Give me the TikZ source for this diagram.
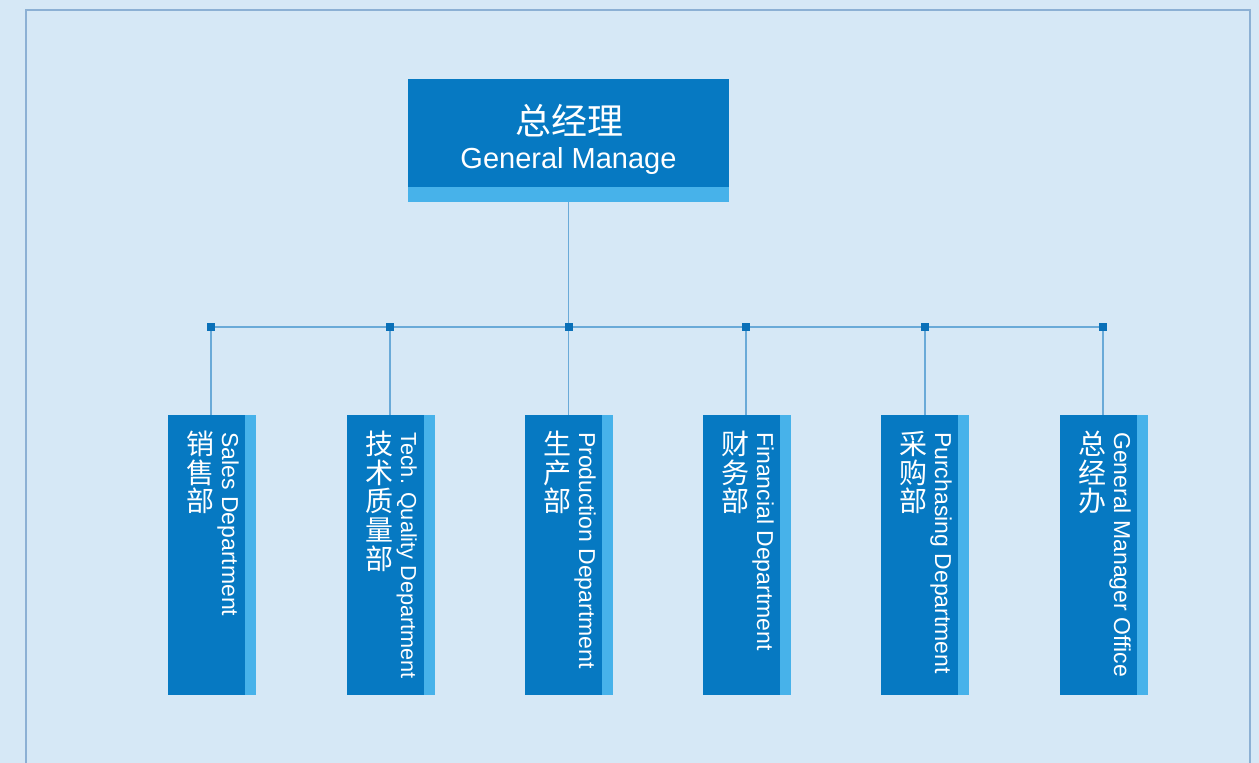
\documentclass[tikz,border=0pt]{standalone}
\usepackage{fontspec}
\setmainfont{Liberation Sans}
\newfontfamily\cjk{Noto Sans CJK SC}
\definecolor{bg}{HTML}{D6E8F6}
\definecolor{framec}{HTML}{8CB0D4}
\definecolor{darkbox}{HTML}{0679C2}
\definecolor{lightbox}{HTML}{47B2EA}
\definecolor{linec}{HTML}{6AAAD8}
\definecolor{sqc}{HTML}{0A70B8}
\begin{document}
\begin{tikzpicture}[x=1pt,y=-1pt,
  boxbase/.style={draw=none,fill=lightbox,rectangle,inner sep=0pt,outer sep=0pt},
  deptbox/.style={boxbase,minimum width=88pt,minimum height=280pt,anchor=north west},
  conn/.style={draw=linec,line width=1.5pt},
  junc/.style={fill=sqc,draw=none,rectangle,minimum size=8pt,inner sep=0pt},
  cjktext/.style={text=white,inner sep=0pt,align=center,font=\cjk\fontsize{28}{28.6}\selectfont,anchor=north},
  entext/.style={text=white,inner sep=0pt,rotate=-90,anchor=base west}]
\useasboundingbox[fill=bg] (0,0) rectangle (1259,763);
\draw[framec,line width=2pt] (26,770) -- (26,10) -- (1250,10) -- (1250,770);

% top box
\node[boxbase,minimum width=321pt,minimum height=123pt,anchor=north west] (gm) at (408,79) {};
\fill[darkbox] (gm.north west) rectangle ++(321,108);
\node[text=white,inner sep=0pt,font=\cjk\fontsize{36}{36}\selectfont] (gmcn) at (569,121) {总经理};
\node[text=white,inner sep=0pt,anchor=base,font=\fontsize{29}{30}\selectfont] (gmen) at (568.5,168) {General Manage};

% junctions
\foreach \i/\x in {1/211,2/390,3/568.5,4/746,5/925,6/1103}{
  \coordinate (j\i) at (\x,327);
}
\draw[conn] (gm.south) -- (j3);
\draw[conn] (j1) -- (j6);

% departments
\foreach \i/\l/\cn/\en/\fs in {
  1/168/{销\\售\\部}/{Sales Department}/23,
  2/347/{技\\术\\质\\量\\部}/{Tech. Quality Department}/21.7,
  3/525/{生\\产\\部}/{Production Department}/23,
  4/703/{财\\务\\部}/{Financial Department}/23,
  5/881/{采\\购\\部}/{Purchasing Department}/23,
  6/1060/{总\\经\\办}/{General Manager Office}/23}{
  \node[deptbox] (d\i) at (\l,415) {};
  \fill[darkbox] (d\i.north west) rectangle ++(77,280);
  \draw[conn] (j\i) -- (j\i |- d\i.north);
  \node[junc] at (j\i) {};
  \node[cjktext] (c\i) at (\l+32.5,431) {\cn};
  \node[entext,font=\fontsize{\fs}{\fs}\selectfont] (e\i) at (\l+54,432) {\en};
}
\end{tikzpicture}
\end{document}
